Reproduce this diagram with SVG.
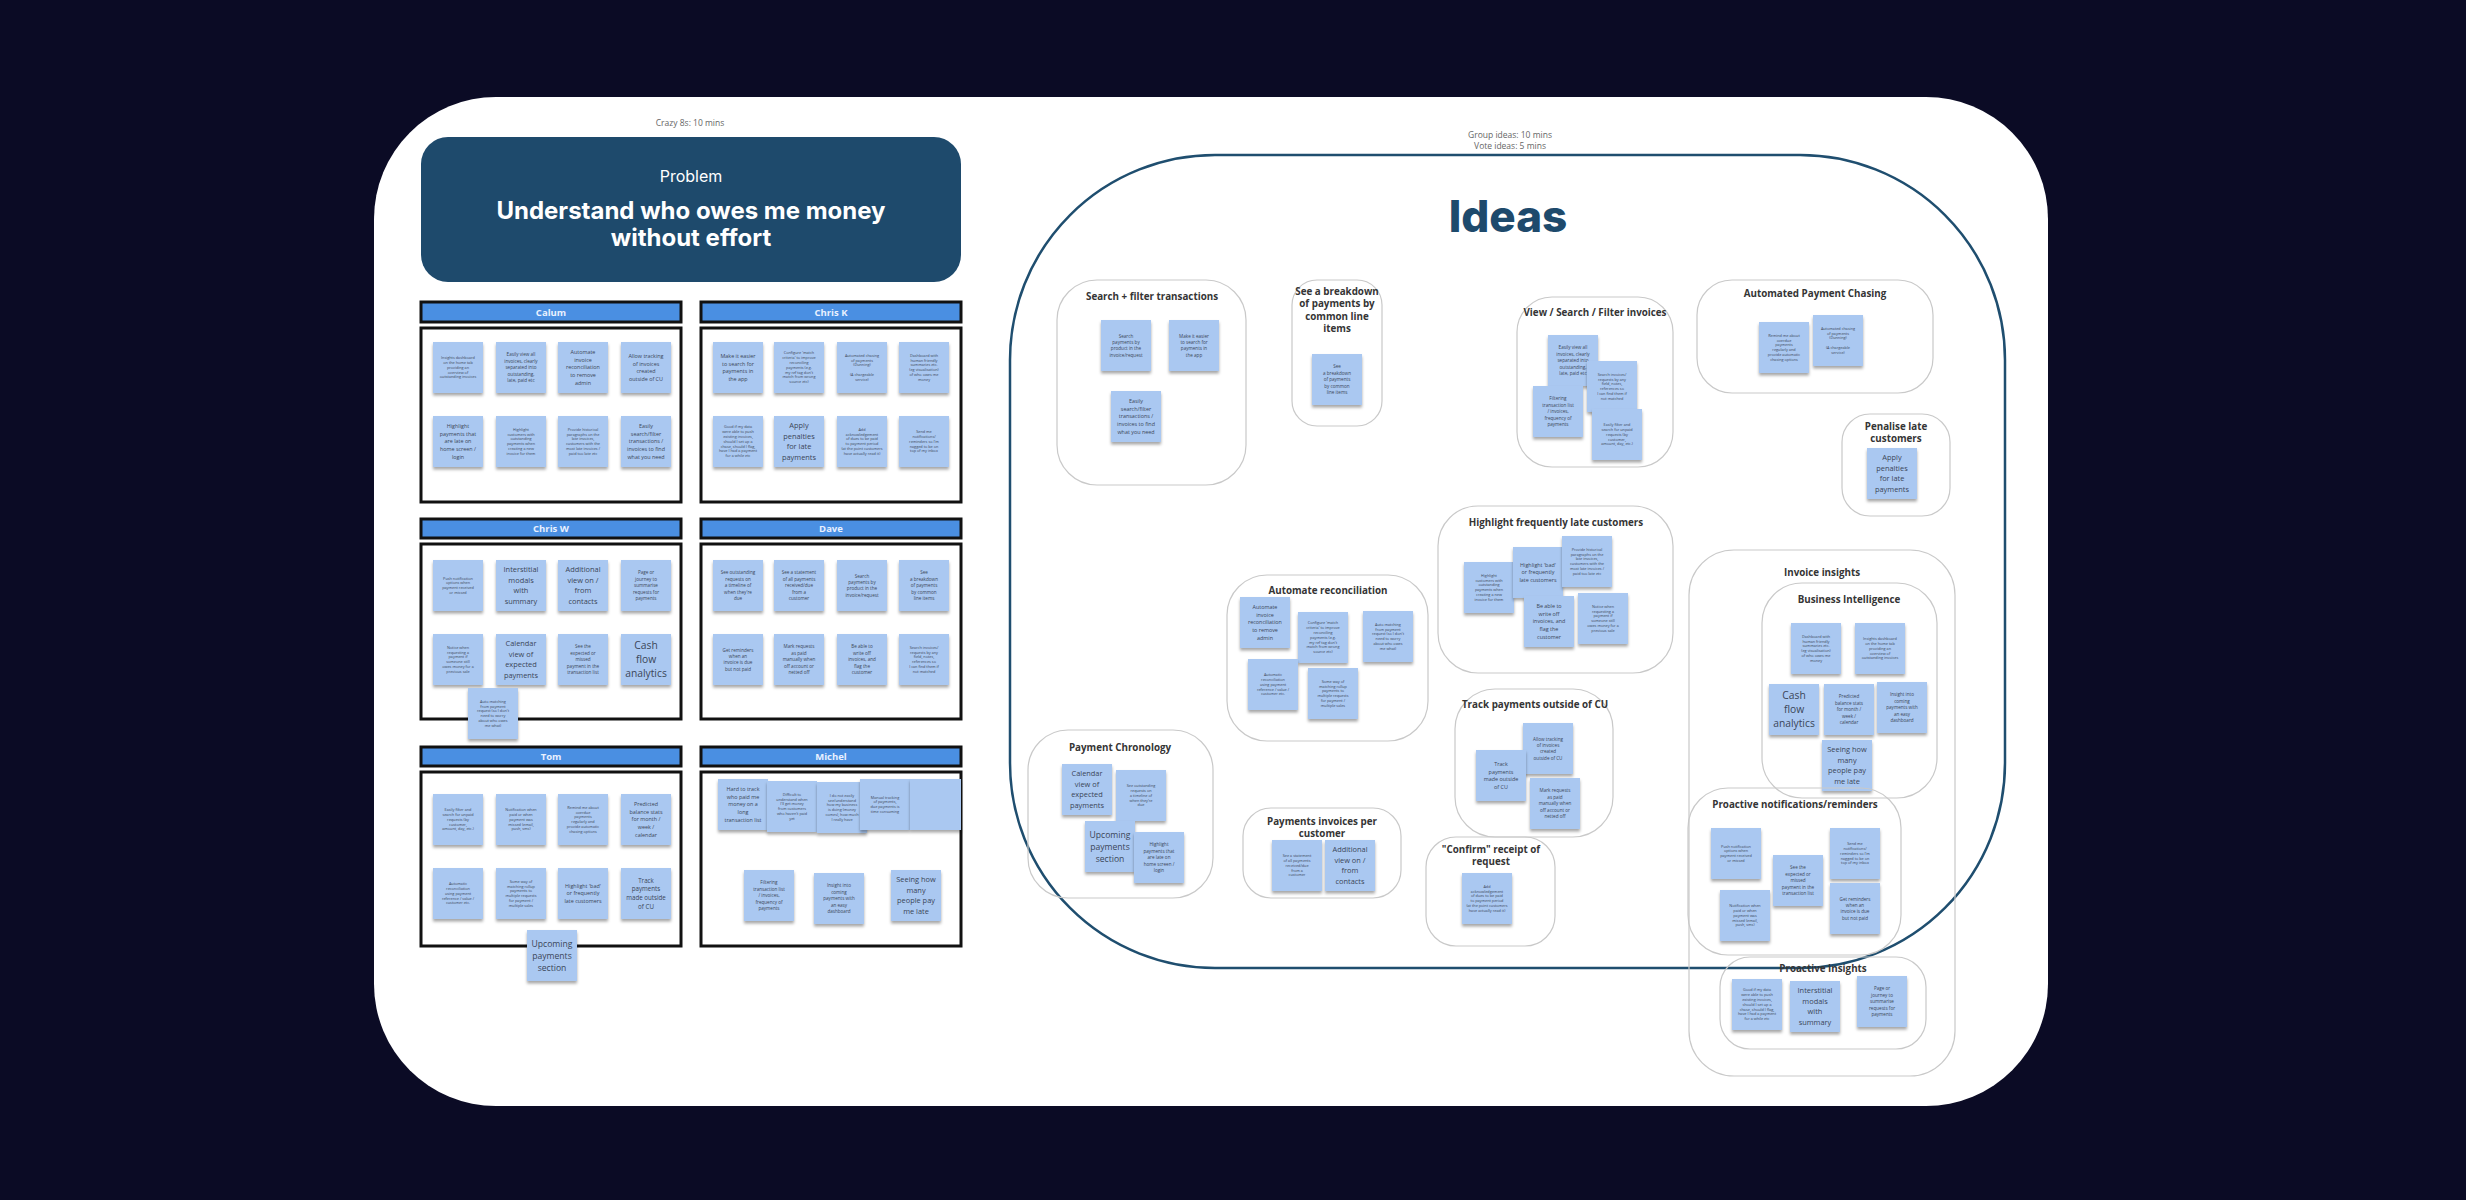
<svg xmlns="http://www.w3.org/2000/svg" width="2466" height="1200" viewBox="0 0 2466 1200">
<defs>
<filter id="sh" x="-20%" y="-20%" width="140%" height="150%"><feDropShadow dx="0" dy="2.5" stdDeviation="1.6" flood-color="#000" flood-opacity="0.35"/></filter>
</defs>
<style>
.st{fill:#aac8f1;filter:url(#sh)}
.t{font-family:"Open Sans","Liberation Sans",sans-serif;fill:#3a4658;text-anchor:middle}
.xs{font-size:3.8px}.s{font-size:4.6px}.m{font-size:5.4px}.m6{font-size:6.2px}.b{font-size:7.4px}.b8{font-size:8.6px}.h{font-size:10.3px}
.gb{fill:none;stroke:#c9c9c9;stroke-width:1.2}
.gt{font-family:"Open Sans","Liberation Sans",sans-serif;font-weight:700;font-size:9.8px;fill:#353535;text-anchor:middle}
.hd{fill:#4a8fe2;stroke:#111;stroke-width:3}
.hdt{font-family:"Open Sans","Liberation Sans",sans-serif;font-weight:700;font-size:9.5px;fill:#e9f1ff;text-anchor:middle}
.pn{fill:#fff;stroke:#111;stroke-width:3}
.note{font-family:"Open Sans","Liberation Sans",sans-serif;font-size:8.5px;fill:#666;text-anchor:middle}
</style>
<rect width="2466" height="1200" fill="#0b0b25"/>
<rect x="374" y="97" width="1674" height="1009" rx="122" fill="#fff"/>

<text class="note" x="690" y="126">Crazy 8s: 10 mins</text>
<g id="problem">
<rect x="421" y="137" width="540" height="145" rx="27" fill="#1e4a6c"/>
<text x="691" y="182" font-family="Inter,'Liberation Sans',sans-serif" font-size="16" fill="#fff" text-anchor="middle">Problem</text>
<text x="691" y="219" font-family="Inter,'Liberation Sans',sans-serif" font-weight="700" font-size="24" fill="#fff" text-anchor="middle">Understand who owes me money</text>
<text x="691" y="246" font-family="Inter,'Liberation Sans',sans-serif" font-weight="700" font-size="24" fill="#fff" text-anchor="middle">without effort</text>
</g>

<g id="panel-calum"><rect class="hd" x="421" y="302" width="260" height="20"/><text class="hdt" x="551" y="315.5">Calum</text><rect class="pn" x="421" y="328" width="260" height="174"/></g>
<g id="panel-chrisk"><rect class="hd" x="701" y="302" width="260" height="20"/><text class="hdt" x="831" y="315.5">Chris K</text><rect class="pn" x="701" y="328" width="260" height="174"/></g>
<g id="panel-chrisw"><rect class="hd" x="421" y="519" width="260" height="19"/><text class="hdt" x="551" y="532">Chris W</text><rect class="pn" x="421" y="544" width="260" height="175"/></g>
<g id="panel-dave"><rect class="hd" x="701" y="519" width="260" height="19"/><text class="hdt" x="831" y="532">Dave</text><rect class="pn" x="701" y="544" width="260" height="175"/></g>
<g id="panel-tom"><rect class="hd" x="421" y="747" width="260" height="19"/><text class="hdt" x="551" y="760">Tom</text><rect class="pn" x="421" y="772" width="260" height="174"/></g>
<g id="panel-michel"><rect class="hd" x="701" y="747" width="260" height="19"/><text class="hdt" x="831" y="760">Michel</text><rect class="pn" x="701" y="772" width="260" height="174"/></g>

<!-- Calum -->
<g id="c1"><rect class="st" x="433" y="342" width="50" height="51"/><text class="t xs" x="458" y="359.2"><tspan>Insights dashboard</tspan><tspan x="458" dy="4.8">on the home tab</tspan><tspan x="458" dy="4.8">providing an</tspan><tspan x="458" dy="4.8">overview of</tspan><tspan x="458" dy="4.8">outstanding invoices</tspan></text></g>
<g id="c2"><rect class="st" x="496" y="342" width="50" height="51"/><text class="t s" x="521" y="356.3"><tspan>Easily view all</tspan><tspan x="521" dy="6.4">invoices, clearly</tspan><tspan x="521" dy="6.4">separated into</tspan><tspan x="521" dy="6.4">outstanding,</tspan><tspan x="521" dy="6.4">late, paid etc</tspan></text></g>
<g id="c3"><rect class="st" x="558" y="342" width="50" height="51"/><text class="t m" x="583" y="354.2"><tspan>Automate</tspan><tspan x="583" dy="7.6">invoice</tspan><tspan x="583" dy="7.6">reconciliation</tspan><tspan x="583" dy="7.6">to remove</tspan><tspan x="583" dy="7.6">admin</tspan></text></g>
<g id="c4"><rect class="st" x="621" y="342" width="50" height="51"/><text class="t m" x="646" y="358"><tspan>Allow tracking</tspan><tspan x="646" dy="7.6">of invoices</tspan><tspan x="646" dy="7.6">created</tspan><tspan x="646" dy="7.6">outside of CU</tspan></text></g>
<g id="c5"><rect class="st" x="433" y="416" width="50" height="51"/><text class="t m" x="458" y="428.2"><tspan>Highlight</tspan><tspan x="458" dy="7.6">payments that</tspan><tspan x="458" dy="7.6">are late on</tspan><tspan x="458" dy="7.6">home screen /</tspan><tspan x="458" dy="7.6">login</tspan></text></g>
<g id="c6"><rect class="st" x="496" y="416" width="50" height="51"/><text class="t xs" x="521" y="430.8"><tspan>Highlight</tspan><tspan x="521" dy="4.8">customers with</tspan><tspan x="521" dy="4.8">outstanding</tspan><tspan x="521" dy="4.8">payments when</tspan><tspan x="521" dy="4.8">creating a new</tspan><tspan x="521" dy="4.8">invoice for them</tspan></text></g>
<g id="c7"><rect class="st" x="558" y="416" width="50" height="51"/><text class="t xs" x="583" y="430.8"><tspan>Provide historical</tspan><tspan x="583" dy="4.8">paragraphs on the</tspan><tspan x="583" dy="4.8">late invoices,</tspan><tspan x="583" dy="4.8">customers with the</tspan><tspan x="583" dy="4.8">most late invoices /</tspan><tspan x="583" dy="4.8">paid too late etc</tspan></text></g>
<g id="c8"><rect class="st" x="621" y="416" width="50" height="51"/><text class="t m" x="646" y="428.2"><tspan>Easily</tspan><tspan x="646" dy="7.6">search/filter</tspan><tspan x="646" dy="7.6">transactions /</tspan><tspan x="646" dy="7.6">invoices to find</tspan><tspan x="646" dy="7.6">what you need</tspan></text></g>

<!-- Chris K -->
<g id="k1"><rect class="st" x="713" y="342" width="50" height="51"/><text class="t m" x="738" y="358"><tspan>Make it easier</tspan><tspan x="738" dy="7.6">to search for</tspan><tspan x="738" dy="7.6">payments in</tspan><tspan x="738" dy="7.6">the app</tspan></text></g>
<g id="k2"><rect class="st" x="774" y="342" width="50" height="51"/><text class="t xs" x="799" y="354.4"><tspan>Configure 'match</tspan><tspan x="799" dy="4.8">criteria' to improve</tspan><tspan x="799" dy="4.8">reconciling</tspan><tspan x="799" dy="4.8">payments (e.g.</tspan><tspan x="799" dy="4.8">my ref tag don't</tspan><tspan x="799" dy="4.8">match from wrong</tspan><tspan x="799" dy="4.8">source etc)</tspan></text></g>
<g id="k3"><rect class="st" x="837" y="342" width="50" height="51"/><text class="t xs" x="862" y="356.8"><tspan>Automated chasing</tspan><tspan x="862" dy="4.8">of payments</tspan><tspan x="862" dy="4.8">(Dunning)</tspan><tspan x="862" dy="9.6">(A chargeable</tspan><tspan x="862" dy="4.8">service)</tspan></text></g>
<g id="k4"><rect class="st" x="899" y="342" width="50" height="51"/><text class="t xs" x="924" y="356.8"><tspan>Dashboard with</tspan><tspan x="924" dy="4.8">human friendly</tspan><tspan x="924" dy="4.8">summaries etc.</tspan><tspan x="924" dy="4.8">(eg visualisation)</tspan><tspan x="924" dy="4.8">of who owes me</tspan><tspan x="924" dy="4.8">money</tspan></text></g>
<g id="k5"><rect class="st" x="713" y="416" width="50" height="51"/><text class="t xs" x="738" y="428.4"><tspan>Good if my data</tspan><tspan x="738" dy="4.8">were able to push</tspan><tspan x="738" dy="4.8">existing invoices,</tspan><tspan x="738" dy="4.8">should I set up a</tspan><tspan x="738" dy="4.8">chase, should I flag,</tspan><tspan x="738" dy="4.8">have I had a payment</tspan><tspan x="738" dy="4.8">for a while etc</tspan></text></g>
<g id="k6"><rect class="st" x="774" y="416" width="50" height="51"/><text class="t b" x="799" y="428.2"><tspan>Apply</tspan><tspan x="799" dy="10.6">penalties</tspan><tspan x="799" dy="10.6">for late</tspan><tspan x="799" dy="10.6">payments</tspan></text></g>
<g id="k7"><rect class="st" x="837" y="416" width="50" height="51"/><text class="t xs" x="862" y="430.8"><tspan>Add</tspan><tspan x="862" dy="4.8">acknowledgement</tspan><tspan x="862" dy="4.8">of dues to be paid</tspan><tspan x="862" dy="4.8">to payment period</tspan><tspan x="862" dy="4.8">(at the point customers</tspan><tspan x="862" dy="4.8">have actually read it)</tspan></text></g>
<g id="k8"><rect class="st" x="899" y="416" width="50" height="51"/><text class="t xs" x="924" y="433.2"><tspan>Send me</tspan><tspan x="924" dy="4.8">notifications/</tspan><tspan x="924" dy="4.8">reminders so I'm</tspan><tspan x="924" dy="4.8">nagged to be on</tspan><tspan x="924" dy="4.8">top of my inbox</tspan></text></g>

<!-- Chris W -->
<g id="w1"><rect class="st" x="433" y="560" width="50" height="51"/><text class="t xs" x="458" y="579.6"><tspan>Push notification</tspan><tspan x="458" dy="4.8">options when</tspan><tspan x="458" dy="4.8">payment received</tspan><tspan x="458" dy="4.8">or missed</tspan></text></g>
<g id="w2"><rect class="st" x="496" y="560" width="50" height="51"/><text class="t b" x="521" y="572.2"><tspan>Interstitial</tspan><tspan x="521" dy="10.6">modals</tspan><tspan x="521" dy="10.6">with</tspan><tspan x="521" dy="10.6">summary</tspan></text></g>
<g id="w3"><rect class="st" x="558" y="560" width="50" height="51"/><text class="t b" x="583" y="572.2"><tspan>Additional</tspan><tspan x="583" dy="10.6">view on /</tspan><tspan x="583" dy="10.6">from</tspan><tspan x="583" dy="10.6">contacts</tspan></text></g>
<g id="w4"><rect class="st" x="621" y="560" width="50" height="51"/><text class="t s" x="646" y="574.3"><tspan>Page or</tspan><tspan x="646" dy="6.4">journey to</tspan><tspan x="646" dy="6.4">summarise</tspan><tspan x="646" dy="6.4">requests for</tspan><tspan x="646" dy="6.4">payments</tspan></text></g>
<g id="w5"><rect class="st" x="433" y="634" width="50" height="51"/><text class="t xs" x="458" y="648.8"><tspan>Notice when</tspan><tspan x="458" dy="4.8">requesting a</tspan><tspan x="458" dy="4.8">payment if</tspan><tspan x="458" dy="4.8">someone still</tspan><tspan x="458" dy="4.8">owes money for a</tspan><tspan x="458" dy="4.8">previous sale</tspan></text></g>
<g id="w6"><rect class="st" x="496" y="634" width="50" height="51"/><text class="t b" x="521" y="646.2"><tspan>Calendar</tspan><tspan x="521" dy="10.6">view of</tspan><tspan x="521" dy="10.6">expected</tspan><tspan x="521" dy="10.6">payments</tspan></text></g>
<g id="w7"><rect class="st" x="558" y="634" width="50" height="51"/><text class="t s" x="583" y="648.3"><tspan>See the</tspan><tspan x="583" dy="6.4">expected or</tspan><tspan x="583" dy="6.4">missed</tspan><tspan x="583" dy="6.4">payment in the</tspan><tspan x="583" dy="6.4">transaction list</tspan></text></g>
<g id="w8"><rect class="st" x="621" y="634" width="50" height="51"/><text class="t h" x="646" y="649.1"><tspan>Cash</tspan><tspan x="646" dy="14">flow</tspan><tspan x="646" dy="14">analytics</tspan></text></g>
<g id="w9"><rect class="st" x="468" y="688" width="50" height="51"/><text class="t xs" x="493" y="702.8"><tspan>Auto matching</tspan><tspan x="493" dy="4.8">from payment</tspan><tspan x="493" dy="4.8">request (so I don't</tspan><tspan x="493" dy="4.8">need to worry</tspan><tspan x="493" dy="4.8">about who owes</tspan><tspan x="493" dy="4.8">me what)</tspan></text></g>

<!-- Dave -->
<g id="d1"><rect class="st" x="713" y="560" width="50" height="51"/><text class="t s" x="738" y="574.3"><tspan>See outstanding</tspan><tspan x="738" dy="6.4">requests on</tspan><tspan x="738" dy="6.4">a timeline of</tspan><tspan x="738" dy="6.4">when they're</tspan><tspan x="738" dy="6.4">due</tspan></text></g>
<g id="d2"><rect class="st" x="774" y="560" width="50" height="51"/><text class="t s" x="799" y="574.3"><tspan>See a statement</tspan><tspan x="799" dy="6.4">of all payments</tspan><tspan x="799" dy="6.4">received/due</tspan><tspan x="799" dy="6.4">from a</tspan><tspan x="799" dy="6.4">customer</tspan></text></g>
<g id="d3"><rect class="st" x="837" y="560" width="50" height="51"/><text class="t s" x="862" y="577.5"><tspan>Search</tspan><tspan x="862" dy="6.4">payments by</tspan><tspan x="862" dy="6.4">product in the</tspan><tspan x="862" dy="6.4">invoice/request</tspan></text></g>
<g id="d4"><rect class="st" x="899" y="560" width="50" height="51"/><text class="t s" x="924" y="574.3"><tspan>See</tspan><tspan x="924" dy="6.4">a breakdown</tspan><tspan x="924" dy="6.4">of payments</tspan><tspan x="924" dy="6.4">by common</tspan><tspan x="924" dy="6.4">line items</tspan></text></g>
<g id="d5"><rect class="st" x="713" y="634" width="50" height="51"/><text class="t s" x="738" y="651.5"><tspan>Get reminders</tspan><tspan x="738" dy="6.4">when an</tspan><tspan x="738" dy="6.4">invoice is due</tspan><tspan x="738" dy="6.4">but not paid</tspan></text></g>
<g id="d6"><rect class="st" x="774" y="634" width="50" height="51"/><text class="t s" x="799" y="648.3"><tspan>Mark requests</tspan><tspan x="799" dy="6.4">as paid</tspan><tspan x="799" dy="6.4">manually when</tspan><tspan x="799" dy="6.4">off account or</tspan><tspan x="799" dy="6.4">netted off</tspan></text></g>
<g id="d7"><rect class="st" x="837" y="634" width="50" height="51"/><text class="t s" x="862" y="648.3"><tspan>Be able to</tspan><tspan x="862" dy="6.4">write off</tspan><tspan x="862" dy="6.4">invoices, and</tspan><tspan x="862" dy="6.4">flag the</tspan><tspan x="862" dy="6.4">customer</tspan></text></g>
<g id="d8"><rect class="st" x="899" y="634" width="50" height="51"/><text class="t xs" x="924" y="648.8"><tspan>Search invoices/</tspan><tspan x="924" dy="4.8">requests by any</tspan><tspan x="924" dy="4.8">field, notes,</tspan><tspan x="924" dy="4.8">references so</tspan><tspan x="924" dy="4.8">I can find them if</tspan><tspan x="924" dy="4.8">not matched</tspan></text></g>

<!-- Tom -->
<g id="t1"><rect class="st" x="433" y="794" width="50" height="51"/><text class="t xs" x="458" y="811.2"><tspan>Easily filter and</tspan><tspan x="458" dy="4.8">search for unpaid</tspan><tspan x="458" dy="4.8">requests (by</tspan><tspan x="458" dy="4.8">customer,</tspan><tspan x="458" dy="4.8">amount, day, etc.)</tspan></text></g>
<g id="t2"><rect class="st" x="496" y="794" width="50" height="51"/><text class="t xs" x="521" y="811.2"><tspan>Notification when</tspan><tspan x="521" dy="4.8">paid or when</tspan><tspan x="521" dy="4.8">payment was</tspan><tspan x="521" dy="4.8">missed (email,</tspan><tspan x="521" dy="4.8">push, sms)</tspan></text></g>
<g id="t3"><rect class="st" x="558" y="794" width="50" height="51"/><text class="t xs" x="583" y="808.8"><tspan>Remind me about</tspan><tspan x="583" dy="4.8">overdue</tspan><tspan x="583" dy="4.8">payments</tspan><tspan x="583" dy="4.8">regularly and</tspan><tspan x="583" dy="4.8">provide automatic</tspan><tspan x="583" dy="4.8">chasing options</tspan></text></g>
<g id="t4"><rect class="st" x="621" y="794" width="50" height="51"/><text class="t m" x="646" y="806.2"><tspan>Predicted</tspan><tspan x="646" dy="7.6">balance stats</tspan><tspan x="646" dy="7.6">for month /</tspan><tspan x="646" dy="7.6">week /</tspan><tspan x="646" dy="7.6">calendar</tspan></text></g>
<g id="t5"><rect class="st" x="433" y="868" width="50" height="51"/><text class="t xs" x="458" y="885.2"><tspan>Automatic</tspan><tspan x="458" dy="4.8">reconciliation</tspan><tspan x="458" dy="4.8">using payment</tspan><tspan x="458" dy="4.8">reference / value /</tspan><tspan x="458" dy="4.8">customer etc.</tspan></text></g>
<g id="t6"><rect class="st" x="496" y="868" width="50" height="51"/><text class="t xs" x="521" y="882.8"><tspan>Some way of</tspan><tspan x="521" dy="4.8">matching rollup</tspan><tspan x="521" dy="4.8">payments to</tspan><tspan x="521" dy="4.8">multiple requests</tspan><tspan x="521" dy="4.8">for payment /</tspan><tspan x="521" dy="4.8">multiple sales</tspan></text></g>
<g id="t7"><rect class="st" x="558" y="868" width="50" height="51"/><text class="t m" x="583" y="887.8"><tspan>Highlight 'bad'</tspan><tspan x="583" dy="7.6">or frequently</tspan><tspan x="583" dy="7.6">late customers</tspan></text></g>
<g id="t8"><rect class="st" x="621" y="868" width="50" height="51"/><text class="t m6" x="646" y="882.8"><tspan>Track</tspan><tspan x="646" dy="8.6">payments</tspan><tspan x="646" dy="8.6">made outside</tspan><tspan x="646" dy="8.6">of CU</tspan></text></g>
<g id="t9"><rect class="st" x="527" y="930" width="50" height="51"/><text class="t b8" x="552" y="946.5"><tspan>Upcoming</tspan><tspan x="552" dy="12">payments</tspan><tspan x="552" dy="12">section</tspan></text></g>

<!-- Michel -->
<g id="m1"><rect class="st" x="718" y="779" width="50" height="51"/><text class="t m" x="743" y="791.2"><tspan>Hard to track</tspan><tspan x="743" dy="7.6">who paid me</tspan><tspan x="743" dy="7.6">money on a</tspan><tspan x="743" dy="7.6">long</tspan><tspan x="743" dy="7.6">transaction list</tspan></text></g>
<g id="m2"><rect class="st" x="767" y="781" width="50" height="51"/><text class="t xs" x="792" y="795.8"><tspan>Difficult to</tspan><tspan x="792" dy="4.8">understand when</tspan><tspan x="792" dy="4.8">I'll get money</tspan><tspan x="792" dy="4.8">from customers</tspan><tspan x="792" dy="4.8">who haven't paid</tspan><tspan x="792" dy="4.8">yet</tspan></text></g>
<g id="m3"><rect class="st" x="817" y="782" width="50" height="51"/><text class="t xs" x="842" y="796.8"><tspan>I do not easily</tspan><tspan x="842" dy="4.8">see/understand</tspan><tspan x="842" dy="4.8">how my business</tspan><tspan x="842" dy="4.8">is doing (money</tspan><tspan x="842" dy="4.8">comes), how much</tspan><tspan x="842" dy="4.8">I really have</tspan></text></g>
<g id="m4"><rect class="st" x="860" y="779" width="50" height="51"/><text class="t xs" x="885" y="798.6"><tspan>Manual tracking</tspan><tspan x="885" dy="4.8">of payments,</tspan><tspan x="885" dy="4.8">due payments is</tspan><tspan x="885" dy="4.8">time consuming</tspan></text></g>
<g id="m5"><rect class="st" x="910" y="779" width="51" height="51"/></g>
<g id="m6"><rect class="st" x="744" y="870" width="50" height="51"/><text class="t s" x="769" y="884.3"><tspan>Filtering</tspan><tspan x="769" dy="6.4">transaction list</tspan><tspan x="769" dy="6.4">/ invoices,</tspan><tspan x="769" dy="6.4">frequency of</tspan><tspan x="769" dy="6.4">payments</tspan></text></g>
<g id="m7"><rect class="st" x="814" y="873" width="50" height="51"/><text class="t s" x="839" y="887.3"><tspan>Insight into</tspan><tspan x="839" dy="6.4">coming</tspan><tspan x="839" dy="6.4">payments with</tspan><tspan x="839" dy="6.4">an easy</tspan><tspan x="839" dy="6.4">dashboard</tspan></text></g>
<g id="m8"><rect class="st" x="891" y="870" width="50" height="51"/><text class="t b" x="916" y="882.2"><tspan>Seeing how</tspan><tspan x="916" dy="10.6">many</tspan><tspan x="916" dy="10.6">people pay</tspan><tspan x="916" dy="10.6">me late</tspan></text></g>

<!-- Ideas area -->
<text class="note" x="1510" y="138">Group ideas: 10 mins</text>
<text class="note" x="1510" y="149">Vote ideas: 5 mins</text>
<g id="ideas-frame">
<rect x="1010" y="155" width="995" height="813" rx="205" fill="none" stroke="#1f4e6f" stroke-width="2.5"/>
<text x="1508" y="232" font-family="Inter,'Liberation Sans',sans-serif" font-weight="800" font-size="44" fill="#1e4a6c" text-anchor="middle">Ideas</text>
</g>

<g id="grp-search"><rect class="gb" x="1057" y="280" width="189" height="205" rx="40"/><text class="gt" x="1152" y="299.5">Search + filter transactions</text>
<g id="i1"><rect class="st" x="1101" y="320" width="50" height="51"/><text class="t s" x="1126" y="337.5"><tspan>Search</tspan><tspan x="1126" dy="6.4">payments by</tspan><tspan x="1126" dy="6.4">product in the</tspan><tspan x="1126" dy="6.4">invoice/request</tspan></text></g>
<g id="i2"><rect class="st" x="1169" y="320" width="50" height="51"/><text class="t s" x="1194" y="337.5"><tspan>Make it easier</tspan><tspan x="1194" dy="6.4">to search for</tspan><tspan x="1194" dy="6.4">payments in</tspan><tspan x="1194" dy="6.4">the app</tspan></text></g>
<g id="i3"><rect class="st" x="1111" y="391" width="50" height="51"/><text class="t m" x="1136" y="403.2"><tspan>Easily</tspan><tspan x="1136" dy="7.6">search/filter</tspan><tspan x="1136" dy="7.6">transactions /</tspan><tspan x="1136" dy="7.6">invoices to find</tspan><tspan x="1136" dy="7.6">what you need</tspan></text></g>
</g>

<g id="grp-breakdown"><rect class="gb" x="1292" y="280" width="90" height="146" rx="25"/><text class="gt" x="1337" y="294.5"><tspan>See a breakdown</tspan><tspan x="1337" dy="12.5">of payments by</tspan><tspan x="1337" dy="12.5">common line</tspan><tspan x="1337" dy="12.5">items</tspan></text>
<g id="i4"><rect class="st" x="1312" y="354" width="50" height="51"/><text class="t s" x="1337" y="368.3"><tspan>See</tspan><tspan x="1337" dy="6.4">a breakdown</tspan><tspan x="1337" dy="6.4">of payments</tspan><tspan x="1337" dy="6.4">by common</tspan><tspan x="1337" dy="6.4">line items</tspan></text></g>
</g>

<g id="grp-view"><rect class="gb" x="1517" y="297" width="156" height="170" rx="35"/><text class="gt" x="1595" y="315.5">View / Search / Filter invoices</text>
<g id="i5"><rect class="st" x="1548" y="335" width="50" height="51"/><text class="t s" x="1573" y="349.3"><tspan>Easily view all</tspan><tspan x="1573" dy="6.4">invoices, clearly</tspan><tspan x="1573" dy="6.4">separated into</tspan><tspan x="1573" dy="6.4">outstanding,</tspan><tspan x="1573" dy="6.4">late, paid etc</tspan></text></g>
<g id="i6"><rect class="st" x="1587" y="361" width="50" height="51"/><text class="t xs" x="1612" y="375.8"><tspan>Search invoices/</tspan><tspan x="1612" dy="4.8">requests by any</tspan><tspan x="1612" dy="4.8">field, notes,</tspan><tspan x="1612" dy="4.8">references so</tspan><tspan x="1612" dy="4.8">I can find them if</tspan><tspan x="1612" dy="4.8">not matched</tspan></text></g>
<g id="i7"><rect class="st" x="1533" y="386" width="50" height="51"/><text class="t s" x="1558" y="400.3"><tspan>Filtering</tspan><tspan x="1558" dy="6.4">transaction list</tspan><tspan x="1558" dy="6.4">/ invoices,</tspan><tspan x="1558" dy="6.4">frequency of</tspan><tspan x="1558" dy="6.4">payments</tspan></text></g>
<g id="i8"><rect class="st" x="1592" y="409" width="50" height="51"/><text class="t xs" x="1617" y="426.2"><tspan>Easily filter and</tspan><tspan x="1617" dy="4.8">search for unpaid</tspan><tspan x="1617" dy="4.8">requests (by</tspan><tspan x="1617" dy="4.8">customer,</tspan><tspan x="1617" dy="4.8">amount, day, etc.)</tspan></text></g>
</g>

<g id="grp-chasing"><rect class="gb" x="1697" y="280" width="236" height="113" rx="35"/><text class="gt" x="1815" y="296.5">Automated Payment Chasing</text>
<g id="i9"><rect class="st" x="1759" y="322" width="50" height="51"/><text class="t xs" x="1784" y="336.8"><tspan>Remind me about</tspan><tspan x="1784" dy="4.8">overdue</tspan><tspan x="1784" dy="4.8">payments</tspan><tspan x="1784" dy="4.8">regularly and</tspan><tspan x="1784" dy="4.8">provide automatic</tspan><tspan x="1784" dy="4.8">chasing options</tspan></text></g>
<g id="i10"><rect class="st" x="1813" y="315" width="50" height="51"/><text class="t xs" x="1838" y="329.8"><tspan>Automated chasing</tspan><tspan x="1838" dy="4.8">of payments</tspan><tspan x="1838" dy="4.8">(Dunning)</tspan><tspan x="1838" dy="9.6">(A chargeable</tspan><tspan x="1838" dy="4.8">service)</tspan></text></g>
</g>

<g id="grp-penalise"><rect class="gb" x="1842" y="414" width="108" height="102" rx="28"/><text class="gt" x="1896" y="429.5"><tspan>Penalise late</tspan><tspan x="1896" dy="12.5">customers</tspan></text>
<g id="i11"><rect class="st" x="1867" y="448" width="50" height="51"/><text class="t b" x="1892" y="460.2"><tspan>Apply</tspan><tspan x="1892" dy="10.6">penalties</tspan><tspan x="1892" dy="10.6">for late</tspan><tspan x="1892" dy="10.6">payments</tspan></text></g>
</g>

<g id="grp-reconcile"><rect class="gb" x="1227" y="575" width="201" height="166" rx="40"/><text class="gt" x="1328" y="593.5">Automate reconciliation</text>
<g id="i12"><rect class="st" x="1240" y="597" width="50" height="51"/><text class="t m" x="1265" y="609.2"><tspan>Automate</tspan><tspan x="1265" dy="7.6">invoice</tspan><tspan x="1265" dy="7.6">reconciliation</tspan><tspan x="1265" dy="7.6">to remove</tspan><tspan x="1265" dy="7.6">admin</tspan></text></g>
<g id="i13"><rect class="st" x="1298" y="612" width="50" height="51"/><text class="t xs" x="1323" y="624.4"><tspan>Configure 'match</tspan><tspan x="1323" dy="4.8">criteria' to improve</tspan><tspan x="1323" dy="4.8">reconciling</tspan><tspan x="1323" dy="4.8">payments (e.g.</tspan><tspan x="1323" dy="4.8">my ref tag don't</tspan><tspan x="1323" dy="4.8">match from wrong</tspan><tspan x="1323" dy="4.8">source etc)</tspan></text></g>
<g id="i14"><rect class="st" x="1363" y="611" width="50" height="51"/><text class="t xs" x="1388" y="625.8"><tspan>Auto matching</tspan><tspan x="1388" dy="4.8">from payment</tspan><tspan x="1388" dy="4.8">request (so I don't</tspan><tspan x="1388" dy="4.8">need to worry</tspan><tspan x="1388" dy="4.8">about who owes</tspan><tspan x="1388" dy="4.8">me what)</tspan></text></g>
<g id="i15"><rect class="st" x="1248" y="659" width="50" height="51"/><text class="t xs" x="1273" y="676.2"><tspan>Automatic</tspan><tspan x="1273" dy="4.8">reconciliation</tspan><tspan x="1273" dy="4.8">using payment</tspan><tspan x="1273" dy="4.8">reference / value /</tspan><tspan x="1273" dy="4.8">customer etc.</tspan></text></g>
<g id="i16"><rect class="st" x="1308" y="668" width="50" height="51"/><text class="t xs" x="1333" y="682.8"><tspan>Some way of</tspan><tspan x="1333" dy="4.8">matching rollup</tspan><tspan x="1333" dy="4.8">payments to</tspan><tspan x="1333" dy="4.8">multiple requests</tspan><tspan x="1333" dy="4.8">for payment /</tspan><tspan x="1333" dy="4.8">multiple sales</tspan></text></g>
</g>

<g id="grp-highlight"><rect class="gb" x="1438" y="506" width="235" height="167" rx="40"/><text class="gt" x="1556" y="525.5">Highlight frequently late customers</text>
<g id="i17"><rect class="st" x="1464" y="562" width="50" height="51"/><text class="t xs" x="1489" y="576.8"><tspan>Highlight</tspan><tspan x="1489" dy="4.8">customers with</tspan><tspan x="1489" dy="4.8">outstanding</tspan><tspan x="1489" dy="4.8">payments when</tspan><tspan x="1489" dy="4.8">creating a new</tspan><tspan x="1489" dy="4.8">invoice for them</tspan></text></g>
<g id="i18"><rect class="st" x="1513" y="547" width="50" height="51"/><text class="t m" x="1538" y="566.8"><tspan>Highlight 'bad'</tspan><tspan x="1538" dy="7.6">or frequently</tspan><tspan x="1538" dy="7.6">late customers</tspan></text></g>
<g id="i19"><rect class="st" x="1562" y="536" width="50" height="51"/><text class="t xs" x="1587" y="550.8"><tspan>Provide historical</tspan><tspan x="1587" dy="4.8">paragraphs on the</tspan><tspan x="1587" dy="4.8">late invoices,</tspan><tspan x="1587" dy="4.8">customers with the</tspan><tspan x="1587" dy="4.8">most late invoices /</tspan><tspan x="1587" dy="4.8">paid too late etc</tspan></text></g>
<g id="i20"><rect class="st" x="1524" y="596" width="50" height="51"/><text class="t m" x="1549" y="608.2"><tspan>Be able to</tspan><tspan x="1549" dy="7.6">write off</tspan><tspan x="1549" dy="7.6">invoices, and</tspan><tspan x="1549" dy="7.6">flag the</tspan><tspan x="1549" dy="7.6">customer</tspan></text></g>
<g id="i21"><rect class="st" x="1578" y="593" width="50" height="51"/><text class="t xs" x="1603" y="607.8"><tspan>Notice when</tspan><tspan x="1603" dy="4.8">requesting a</tspan><tspan x="1603" dy="4.8">payment if</tspan><tspan x="1603" dy="4.8">someone still</tspan><tspan x="1603" dy="4.8">owes money for a</tspan><tspan x="1603" dy="4.8">previous sale</tspan></text></g>
</g>

<g id="grp-track"><rect class="gb" x="1455" y="689" width="158" height="148" rx="40"/><text class="gt" x="1535" y="707.5">Track payments outside of CU</text>
<g id="i22"><rect class="st" x="1523" y="723" width="50" height="51"/><text class="t s" x="1548" y="740.5"><tspan>Allow tracking</tspan><tspan x="1548" dy="6.4">of invoices</tspan><tspan x="1548" dy="6.4">created</tspan><tspan x="1548" dy="6.4">outside of CU</tspan></text></g>
<g id="i23"><rect class="st" x="1476" y="750" width="50" height="51"/><text class="t m" x="1501" y="766"><tspan>Track</tspan><tspan x="1501" dy="7.6">payments</tspan><tspan x="1501" dy="7.6">made outside</tspan><tspan x="1501" dy="7.6">of CU</tspan></text></g>
<g id="i24"><rect class="st" x="1530" y="778" width="50" height="51"/><text class="t s" x="1555" y="792.3"><tspan>Mark requests</tspan><tspan x="1555" dy="6.4">as paid</tspan><tspan x="1555" dy="6.4">manually when</tspan><tspan x="1555" dy="6.4">off account or</tspan><tspan x="1555" dy="6.4">netted off</tspan></text></g>
</g>

<g id="grp-confirm"><rect class="gb" x="1426" y="837" width="129" height="109" rx="30"/><text class="gt" x="1491" y="852.5"><tspan>"Confirm" receipt of</tspan><tspan x="1491" dy="12.5">request</tspan></text>
<g id="i25"><rect class="st" x="1462" y="873" width="50" height="51"/><text class="t xs" x="1487" y="887.8"><tspan>Add</tspan><tspan x="1487" dy="4.8">acknowledgement</tspan><tspan x="1487" dy="4.8">of dues to be paid</tspan><tspan x="1487" dy="4.8">to payment period</tspan><tspan x="1487" dy="4.8">(at the point customers</tspan><tspan x="1487" dy="4.8">have actually read it)</tspan></text></g>
</g>

<g id="grp-chronology"><rect class="gb" x="1028" y="730" width="185" height="168" rx="40"/><text class="gt" x="1120" y="750.5">Payment Chronology</text>
<g id="i26"><rect class="st" x="1062" y="764" width="50" height="51"/><text class="t b" x="1087" y="776.2"><tspan>Calendar</tspan><tspan x="1087" dy="10.6">view of</tspan><tspan x="1087" dy="10.6">expected</tspan><tspan x="1087" dy="10.6">payments</tspan></text></g>
<g id="i27"><rect class="st" x="1116" y="770" width="50" height="51"/><text class="t xs" x="1141" y="787.2"><tspan>See outstanding</tspan><tspan x="1141" dy="4.8">requests on</tspan><tspan x="1141" dy="4.8">a timeline of</tspan><tspan x="1141" dy="4.8">when they're</tspan><tspan x="1141" dy="4.8">due</tspan></text></g>
<g id="i28"><rect class="st" x="1085" y="821" width="50" height="51"/><text class="t b8" x="1110" y="837.5"><tspan>Upcoming</tspan><tspan x="1110" dy="12">payments</tspan><tspan x="1110" dy="12">section</tspan></text></g>
<g id="i29"><rect class="st" x="1134" y="832" width="50" height="51"/><text class="t s" x="1159" y="846.3"><tspan>Highlight</tspan><tspan x="1159" dy="6.4">payments that</tspan><tspan x="1159" dy="6.4">are late on</tspan><tspan x="1159" dy="6.4">home screen /</tspan><tspan x="1159" dy="6.4">login</tspan></text></g>
</g>

<g id="grp-percustomer"><rect class="gb" x="1243" y="808" width="158" height="90" rx="28"/><text class="gt" x="1322" y="824.5"><tspan>Payments invoices per</tspan><tspan x="1322" dy="12.5">customer</tspan></text>
<g id="i30"><rect class="st" x="1272" y="840" width="50" height="51"/><text class="t xs" x="1297" y="857.2"><tspan>See a statement</tspan><tspan x="1297" dy="4.8">of all payments</tspan><tspan x="1297" dy="4.8">received/due</tspan><tspan x="1297" dy="4.8">from a</tspan><tspan x="1297" dy="4.8">customer</tspan></text></g>
<g id="i31"><rect class="st" x="1325" y="840" width="50" height="51"/><text class="t b" x="1350" y="852.2"><tspan>Additional</tspan><tspan x="1350" dy="10.6">view on /</tspan><tspan x="1350" dy="10.6">from</tspan><tspan x="1350" dy="10.6">contacts</tspan></text></g>
</g>

<g id="grp-insights"><rect class="gb" x="1689" y="550" width="266" height="526" rx="45"/><text class="gt" x="1822" y="575.5">Invoice insights</text></g>

<g id="grp-bi"><rect class="gb" x="1762" y="583" width="175" height="215" rx="40"/><text class="gt" x="1849" y="602.5">Business Intelligence</text>
<g id="i32"><rect class="st" x="1791" y="623" width="50" height="51"/><text class="t xs" x="1816" y="637.8"><tspan>Dashboard with</tspan><tspan x="1816" dy="4.8">human friendly</tspan><tspan x="1816" dy="4.8">summaries etc.</tspan><tspan x="1816" dy="4.8">(eg visualisation)</tspan><tspan x="1816" dy="4.8">of who owes me</tspan><tspan x="1816" dy="4.8">money</tspan></text></g>
<g id="i33"><rect class="st" x="1855" y="623" width="50" height="51"/><text class="t xs" x="1880" y="640.2"><tspan>Insights dashboard</tspan><tspan x="1880" dy="4.8">on the home tab</tspan><tspan x="1880" dy="4.8">providing an</tspan><tspan x="1880" dy="4.8">overview of</tspan><tspan x="1880" dy="4.8">outstanding invoices</tspan></text></g>
<g id="i34"><rect class="st" x="1769" y="684" width="50" height="51"/><text class="t h" x="1794" y="699.1"><tspan>Cash</tspan><tspan x="1794" dy="14">flow</tspan><tspan x="1794" dy="14">analytics</tspan></text></g>
<g id="i35"><rect class="st" x="1824" y="684" width="50" height="51"/><text class="t s" x="1849" y="698.3"><tspan>Predicted</tspan><tspan x="1849" dy="6.4">balance stats</tspan><tspan x="1849" dy="6.4">for month /</tspan><tspan x="1849" dy="6.4">week /</tspan><tspan x="1849" dy="6.4">calendar</tspan></text></g>
<g id="i36"><rect class="st" x="1877" y="682" width="50" height="51"/><text class="t s" x="1902" y="696.3"><tspan>Insight into</tspan><tspan x="1902" dy="6.4">coming</tspan><tspan x="1902" dy="6.4">payments with</tspan><tspan x="1902" dy="6.4">an easy</tspan><tspan x="1902" dy="6.4">dashboard</tspan></text></g>
<g id="i37"><rect class="st" x="1822" y="740" width="50" height="51"/><text class="t b" x="1847" y="752.2"><tspan>Seeing how</tspan><tspan x="1847" dy="10.6">many</tspan><tspan x="1847" dy="10.6">people pay</tspan><tspan x="1847" dy="10.6">me late</tspan></text></g>
</g>

<g id="grp-notifications"><rect class="gb" x="1688" y="788" width="213" height="167" rx="40"/><text class="gt" x="1795" y="807.5">Proactive notifications/reminders</text>
<g id="i38"><rect class="st" x="1711" y="828" width="50" height="51"/><text class="t xs" x="1736" y="847.6"><tspan>Push notification</tspan><tspan x="1736" dy="4.8">options when</tspan><tspan x="1736" dy="4.8">payment received</tspan><tspan x="1736" dy="4.8">or missed</tspan></text></g>
<g id="i39"><rect class="st" x="1773" y="855" width="50" height="51"/><text class="t s" x="1798" y="869.3"><tspan>See the</tspan><tspan x="1798" dy="6.4">expected or</tspan><tspan x="1798" dy="6.4">missed</tspan><tspan x="1798" dy="6.4">payment in the</tspan><tspan x="1798" dy="6.4">transaction list</tspan></text></g>
<g id="i40"><rect class="st" x="1830" y="828" width="50" height="51"/><text class="t xs" x="1855" y="845.2"><tspan>Send me</tspan><tspan x="1855" dy="4.8">notifications/</tspan><tspan x="1855" dy="4.8">reminders so I'm</tspan><tspan x="1855" dy="4.8">nagged to be on</tspan><tspan x="1855" dy="4.8">top of my inbox</tspan></text></g>
<g id="i41"><rect class="st" x="1720" y="890" width="50" height="51"/><text class="t xs" x="1745" y="907.2"><tspan>Notification when</tspan><tspan x="1745" dy="4.8">paid or when</tspan><tspan x="1745" dy="4.8">payment was</tspan><tspan x="1745" dy="4.8">missed (email,</tspan><tspan x="1745" dy="4.8">push, sms)</tspan></text></g>
<g id="i42"><rect class="st" x="1830" y="883" width="50" height="51"/><text class="t s" x="1855" y="900.5"><tspan>Get reminders</tspan><tspan x="1855" dy="6.4">when an</tspan><tspan x="1855" dy="6.4">invoice is due</tspan><tspan x="1855" dy="6.4">but not paid</tspan></text></g>
</g>

<g id="grp-proinsights"><rect class="gb" x="1720" y="957" width="206" height="92" rx="30"/><text class="gt" x="1823" y="971.5">Proactive Insights</text>
<g id="i43"><rect class="st" x="1732" y="979" width="50" height="51"/><text class="t xs" x="1757" y="991.4"><tspan>Good if my data</tspan><tspan x="1757" dy="4.8">were able to push</tspan><tspan x="1757" dy="4.8">existing invoices,</tspan><tspan x="1757" dy="4.8">should I set up a</tspan><tspan x="1757" dy="4.8">chase, should I flag,</tspan><tspan x="1757" dy="4.8">have I had a payment</tspan><tspan x="1757" dy="4.8">for a while etc</tspan></text></g>
<g id="i44"><rect class="st" x="1790" y="981" width="50" height="51"/><text class="t b" x="1815" y="993.2"><tspan>Interstitial</tspan><tspan x="1815" dy="10.6">modals</tspan><tspan x="1815" dy="10.6">with</tspan><tspan x="1815" dy="10.6">summary</tspan></text></g>
<g id="i45"><rect class="st" x="1857" y="976" width="50" height="51"/><text class="t s" x="1882" y="990.3"><tspan>Page or</tspan><tspan x="1882" dy="6.4">journey to</tspan><tspan x="1882" dy="6.4">summarise</tspan><tspan x="1882" dy="6.4">requests for</tspan><tspan x="1882" dy="6.4">payments</tspan></text></g>
</g>

<g id="connectors"></g>
</svg>
